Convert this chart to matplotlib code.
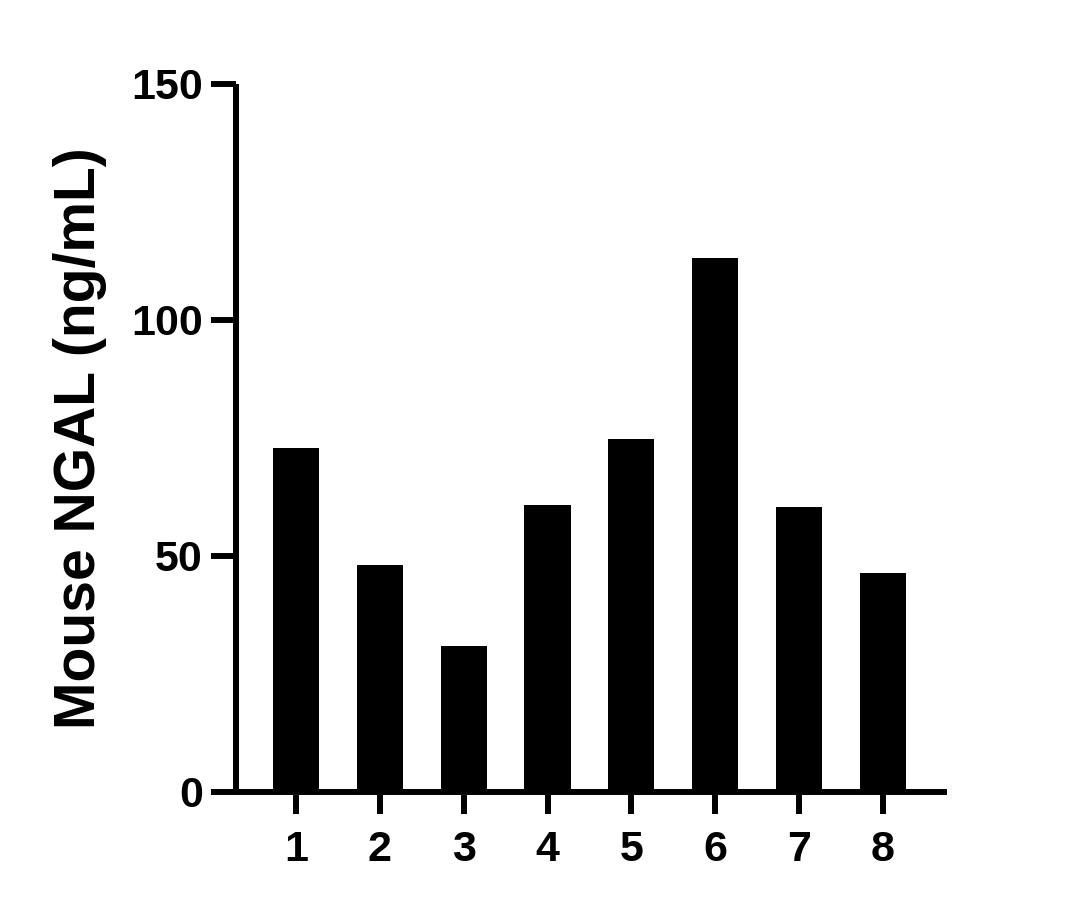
import matplotlib
matplotlib.use('Agg')
import matplotlib.pyplot as plt

# sample numbers and measured NGAL values
samples = ['1', '2', '3', '4', '5', '6', '7', '8']
ngal = [72.8, 48.0, 30.8, 60.7, 74.7, 113.1, 60.3, 46.3]
y_ticks = [0, 50, 100, 150]

plt.rcParams['font.family'] = ['Liberation Sans', 'DejaVu Sans']
plt.rcParams['font.weight'] = 'bold'

fig = plt.figure(figsize=(10.82, 9.08), dpi=100)
ax = fig.add_axes([0.2181, 0.1283, 0.657, 0.7792])

x = range(1, len(samples) + 1)
ax.bar(x, ngal, width=0.55, color='black', zorder=1)

ax.set_xlim(0.2845, 8.763)
ax.set_ylim(0, 150)
ax.set_yticks(y_ticks)
ax.set_xticks(list(x))
ax.set_xticklabels(samples)

for side in ['top', 'right']:
    ax.spines[side].set_visible(False)
for side in ['left', 'bottom']:
    ax.spines[side].set_linewidth(4.3)
    ax.spines[side].set_capstyle('butt')

ax.tick_params(axis='y', length=18, width=4.3, pad=6, labelsize=31)
ax.tick_params(axis='x', length=16, width=4.3, pad=12, labelsize=31)
for lbl in ax.get_xticklabels() + ax.get_yticklabels():
    lbl.set_fontweight('bold')

ax.set_ylabel('Mouse NGAL (ng/mL)', fontsize=41, fontweight='bold')
ax.yaxis.set_label_coords(-0.181, 0.5)

plt.savefig('out.png', dpi=100)
